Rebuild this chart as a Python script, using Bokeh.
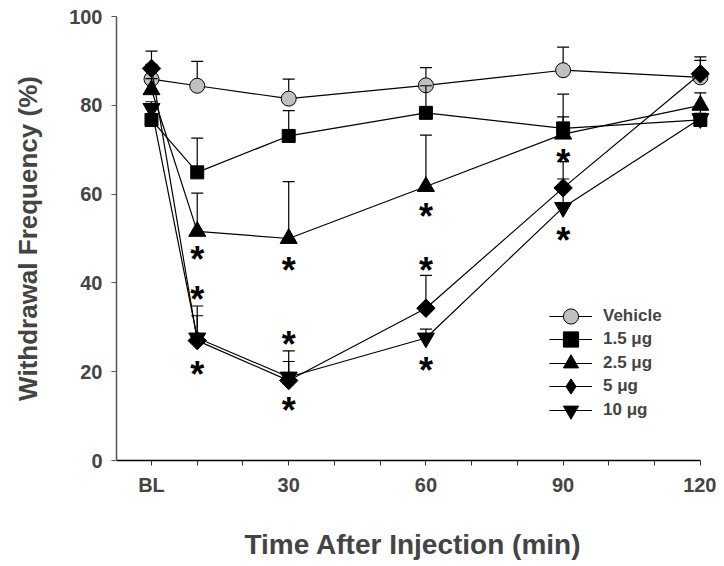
from bokeh.plotting import figure
from bokeh.models import FixedTicker, Legend, LegendItem, Range1d
from bokeh.core.properties import value
from bokeh.embed import file_html
from bokeh.resources import INLINE

# ---------------- data ----------------
time_min = [0, 10, 30, 60, 90, 120]
x_tick_values = [0, 30, 60, 90, 120]
x_tick_labels = ["BL", "30", "60", "90", "120"]
x_minor_ticks = [10, 20, 40, 50, 70, 80, 100, 110]
y_tick_values = [0, 20, 40, 60, 80, 100]

series_names = ["Vehicle", "1.5 \u03bcg", "2.5 \u03bcg", "5 \u03bcg", "10 \u03bcg"]
vehicle_mean = [85.9, 84.4, 81.5, 84.5, 87.9, 86.3]
vehicle_sem = [3.3, 5.5, 4.4, 4.0, 5.2, 3.8]
dose15_mean = [76.7, 64.9, 73.1, 78.3, 74.8, 76.7]
dose15_sem = [2.5, 7.7, 5.7, 6.1, 2.6, 1.5]
dose25_mean = [83.5, 51.6, 50.0, 61.7, 73.5, 80.0]
dose25_sem = [2.5, 8.6, 12.8, 11.6, 9.0, 2.8]
dose5_mean = [88.3, 27.0, 18.0, 34.3, 61.4, 87.1]
dose5_sem = [3.9, 7.8, 6.7, 7.4, 5.9, 3.8]
dose10_mean = [79.3, 27.6, 18.8, 27.6, 57.0, 77.0]
dose10_sem = [1.5, 5.0, 3.5, 2.0, 6.4, 2.0]

star_time = [10, 10, 10, 30, 30, 30, 60, 60, 60, 90, 90]
star_level = [47.2, 38.2, 21.4, 44.9, 28.1, 13.2, 56.9, 44.9, 22.4, 69.2, 51.6]

means = [vehicle_mean, dose15_mean, dose25_mean, dose5_mean, dose10_mean]
sems = [vehicle_sem, dose15_sem, dose25_sem, dose5_sem, dose10_sem]

# ---------------- styles ----------------
styles = [
    dict(marker="circle", fill="#c0c0c0", size=15, angle=0.0, legend_marker="circle"),
    dict(marker="square", fill="black", size=13, angle=0.0, legend_marker="square"),
    dict(marker="triangle", fill="black", size=17, angle=0.0, legend_marker="triangle"),
    dict(marker="square", fill="black", size=13, angle=0.7853981634, legend_marker="diamond"),
    dict(marker="inverted_triangle", fill="black", size=17, angle=0.0, legend_marker="inverted_triangle"),
]

FONT = "Liberation Sans"
FRAME_LEFT, FRAME_TOP, FRAME_BOTTOM = 116, 16, 462
FIG_W, FIG_H = 716, 562

p = figure(width=FIG_W, height=FIG_H, output_backend="svg", toolbar_location=None,
           x_range=Range1d(-7.65, 122), y_range=Range1d(0, 100),
           min_border_left=FRAME_LEFT, min_border_right=7, min_border_top=FRAME_TOP,
           min_border_bottom=FIG_H - FRAME_BOTTOM)
p.outline_line_color = None
p.grid.visible = False
p.background_fill_color = "white"
p.border_fill_color = "white"

legend_items = []
for name, m, s, st in zip(series_names, means, sems, styles):
    upper = [a + b for a, b in zip(m, s)]
    lr = p.line(time_min, m, line_color="black", line_width=1.2)
    p.segment(x0=time_min, y0=m, x1=time_min, y1=upper, line_color="black", line_width=1.2)
    p.scatter(time_min, upper, marker="dash", size=12, line_color="black", line_width=1.2)
    legend_marker_r = None
    if st["legend_marker"] != st["marker"]:
        # legend-only glyph (legend ignores marker angle); it sits hidden under the first point
        legend_marker_r = p.scatter(time_min[:1], m[:1], marker=st["legend_marker"],
                                    size=st["size"], fill_color=st["fill"],
                                    line_color="black", line_width=1)
    mr = p.scatter(time_min, m, marker=st["marker"], size=st["size"], angle=st["angle"],
                   fill_color=st["fill"], line_color="black", line_width=1)
    legend_items.append(LegendItem(label=name, renderers=[lr, legend_marker_r or mr]))

p.text(x=star_time, y=star_level, text=["*"] * len(star_time),
       text_font=value(FONT), text_font_style="bold", text_font_size="36px",
       text_align="center", text_baseline="middle", y_offset=9, text_color="black")

# one small legend per row, so the rows can sit closer than the glyph box
row_pitch = 23.4
first_center = 318
glyph_h = 38
for i, item in enumerate(legend_items):
    center = first_center + i * row_pitch
    loc_y = FRAME_BOTTOM - (center + glyph_h / 2)
    lg = Legend(items=[item], location=(433, loc_y), glyph_width=43, glyph_height=glyph_h,
                spacing=0, padding=0, margin=0, label_standoff=11,
                label_text_font=FONT, label_text_font_style="bold",
                label_text_font_size="17px", border_line_color=None,
                background_fill_alpha=0)
    p.add_layout(lg)

# ---------------- axes ----------------
xa = p.xaxis[0]
xa.ticker = FixedTicker(ticks=x_tick_values, minor_ticks=x_minor_ticks)
xa.major_label_overrides = dict(zip(x_tick_values, x_tick_labels))
xa.bounds = (-7.65, 120)
xa.axis_line_color = "black"
xa.axis_line_width = 1.5
xa.major_tick_in = 0
xa.major_tick_out = 5
xa.minor_tick_in = 0
xa.minor_tick_out = 5
xa.major_tick_line_color = "#333333"
xa.minor_tick_line_color = "#333333"
xa.major_label_text_font = FONT
xa.major_label_text_font_style = "bold"
xa.major_label_text_font_size = "20px"
xa.major_label_standoff = 8
xa.axis_label = "Time After Injection (min)"
xa.axis_label_text_font = FONT
xa.axis_label_text_font_style = "bold"
xa.axis_label_text_font_size = "28px"
xa.axis_label_standoff = 30

ya = p.yaxis[0]
ya.ticker = FixedTicker(ticks=y_tick_values, minor_ticks=[])
ya.axis_line_color = "#555555"
ya.axis_line_width = 1.5
ya.major_tick_in = 0
ya.major_tick_out = 5
ya.minor_tick_line_color = None
ya.major_tick_line_color = "#555555"
ya.major_label_text_font = FONT
ya.major_label_text_font_style = "bold"
ya.major_label_text_font_size = "20px"
ya.major_label_standoff = 9
ya.axis_label = "Withdrawal Frequency (%)"
ya.axis_label_text_font = FONT
ya.axis_label_text_font_style = "bold"
ya.axis_label_text_font_size = "26px"
ya.axis_label_standoff = 23

open("out.html", "w").write(file_html(p, INLINE))
